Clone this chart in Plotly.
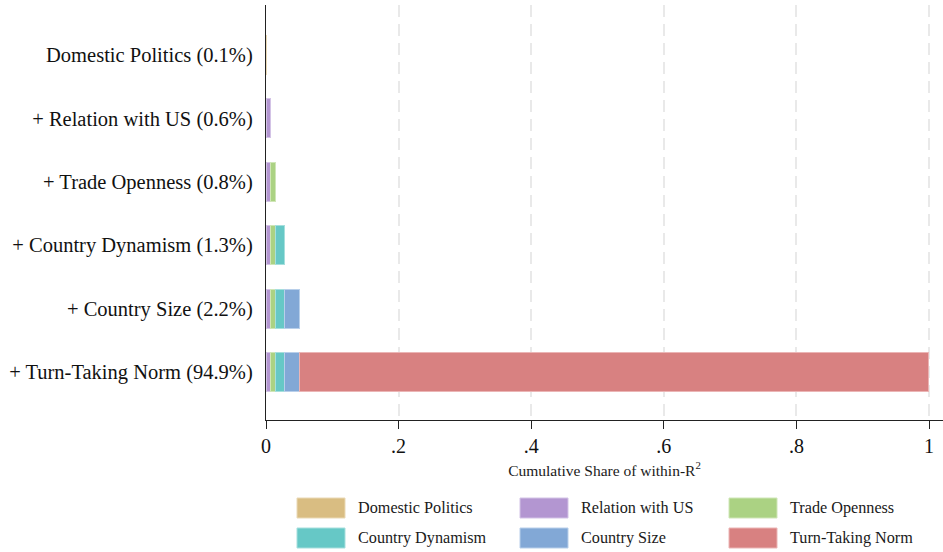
import plotly.graph_objects as go

# Rows of the decomposition, top to bottom
row_labels = [
    "Domestic Politics (0.1%)",
    "+ Relation with US (0.6%)",
    "+ Trade Openness (0.8%)",
    "+ Country Dynamism (1.3%)",
    "+ Country Size (2.2%)",
    "+ Turn-Taking Norm (94.9%)",
]

# Each added block of variables and its share of the within-R^2
series_names = [
    "Domestic Politics",
    "Relation with US",
    "Trade Openness",
    "Country Dynamism",
    "Country Size",
    "Turn-Taking Norm",
]
shares = [0.001, 0.006, 0.008, 0.013, 0.022, 0.949]

colors = ["#d9bd82", "#b396d1", "#abd283", "#66c8c6", "#82a8d6", "#d88181"]
edge_colors = ["#ead9b5", "#d3c3e6", "#cfe6b7", "#a6dfdd", "#b8cfea", "#ebb5b5"]

x_ticks = [0, 0.2, 0.4, 0.6, 0.8, 1.0]
x_ticktext = ["0", ".2", ".4", ".6", ".8", "1"]

FONT = "Liberation Serif"

W, H = 943, 552
ML, MR, MT, MB = 266, 0, 5, 132
PW, PH = W - ML - MR, H - MT - MB

fig = go.Figure()

# Cumulative stacking: block j appears in every row from row j downward
for j, (name, share) in enumerate(zip(series_names, shares)):
    xs = [share if i >= j else None for i in range(len(row_labels))]
    fig.add_trace(go.Bar(
        y=row_labels,
        x=xs,
        name=name,
        orientation="h",
        width=0.615,
        marker=dict(color=colors[j], line=dict(color=edge_colors[j], width=1)),
        showlegend=False,
        hoverinfo="x+name",
    ))


def px_x(p):
    return (p - ML) / PW


def px_y(p):
    return (H - MB - p) / PH


# Legend: three columns, two rows of wide swatches below the axis title
col_swatch = [297, 520, 729]
col_text = [356, 579, 788]
row_top = [498, 528]
sw_w, sw_h = 48, 20
for k, (name, col, edge) in enumerate(zip(series_names, colors, edge_colors)):
    r, c = divmod(k, 3)
    fig.add_shape(
        type="rect", xref="paper", yref="paper",
        x0=px_x(col_swatch[c]), x1=px_x(col_swatch[c] + sw_w),
        y0=px_y(row_top[r] + sw_h), y1=px_y(row_top[r]),
        fillcolor=col, line=dict(color=edge, width=1),
    )
    fig.add_annotation(
        x=px_x(col_text[c]), y=px_y(row_top[r] + sw_h / 2),
        xref="paper", yref="paper", text=name, showarrow=False,
        xanchor="left", yanchor="middle",
        font=dict(family=FONT, size=16.2, color="#1a1a1a"),
    )

fig.update_layout(
    barmode="stack",
    width=W, height=H,
    margin=dict(l=ML, r=MR, t=MT, b=MB, pad=0),
    paper_bgcolor="white",
    plot_bgcolor="white",
    font=dict(family=FONT, color="#111111"),
    showlegend=False,
)

fig.update_xaxes(
    range=[0, 1.021],
    tickvals=x_ticks,
    ticktext=x_ticktext,
    ticks="outside", ticklen=8, tickwidth=1.2, tickcolor="#222222",
    tickfont=dict(family=FONT, size=20, color="#111111"),
    showline=True, linecolor="#222222", linewidth=1.3,
    showgrid=True, gridcolor="#e9e9e9", gridwidth=1.6, griddash="12px,7px",
    zeroline=False,
    title=dict(text="Cumulative Share of within-R<sup>2</sup>",
               font=dict(family=FONT, size=15.5, color="#1a1a1a"), standoff=8),
)

fig.update_yaxes(
    type="category",
    categoryorder="array", categoryarray=row_labels,
    range=[5.757, -0.789],
    ticks="", ticklabelstandoff=8,
    tickfont=dict(family=FONT, size=20.5, color="#111111"),
    showline=True, linecolor="#222222", linewidth=1.3,
    showgrid=False, zeroline=False,
)

fig.write_html("out.html")
